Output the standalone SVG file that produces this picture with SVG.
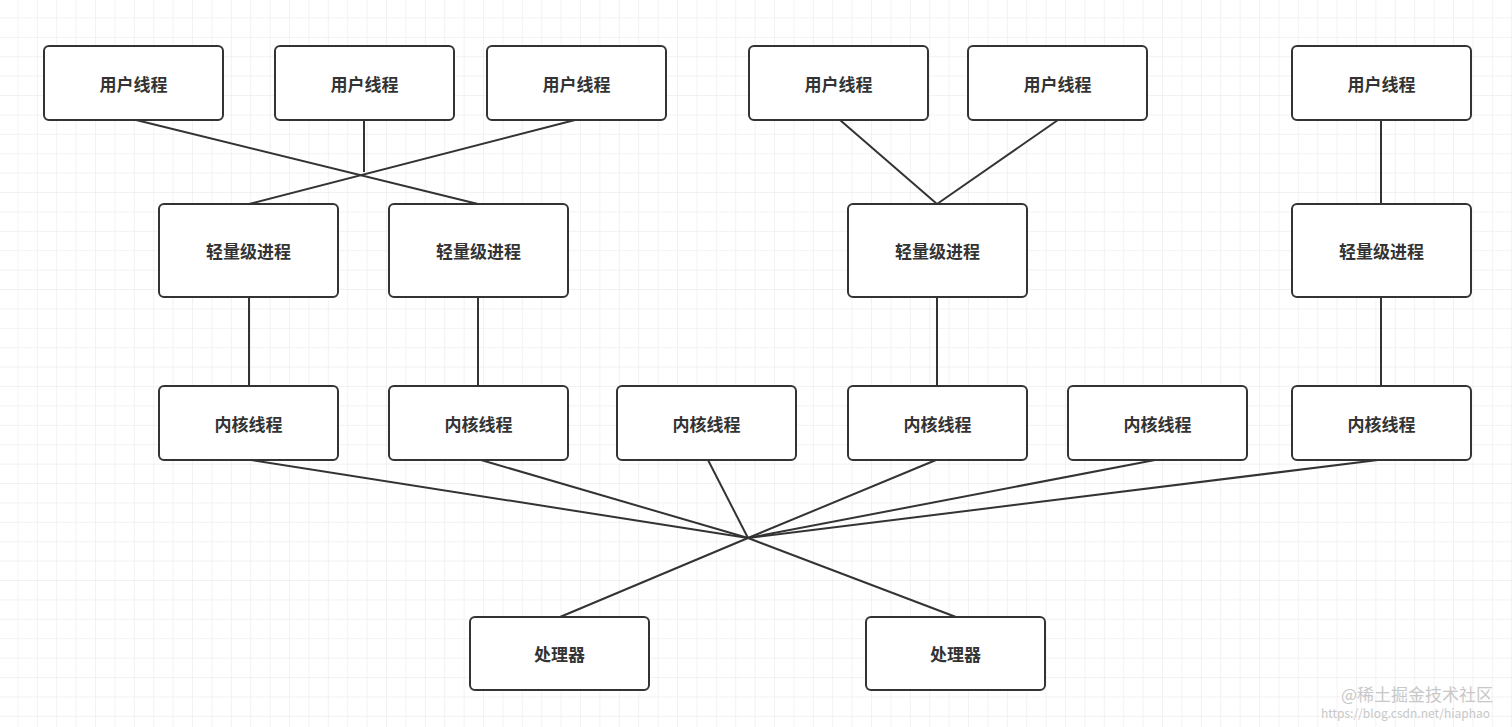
<svg xmlns="http://www.w3.org/2000/svg" width="1512" height="727" viewBox="0 0 1512 727">
<defs>
<pattern id="g" width="19.4" height="19.4" patternUnits="userSpaceOnUse" x="-1" y="-1">
<path d="M19.4 0V19.4M0 19.4H19.4" fill="none" stroke="#e6e6e6" stroke-width="1"/>
</pattern>
<style>
.b{fill:#fff;stroke:#333;stroke-width:2}
.t{font-family:"Noto Sans CJK SC",sans-serif;font-size:17px;font-weight:bold;fill:#333;text-anchor:middle;dominant-baseline:central}
.c line,.c polyline{stroke:#333;stroke-width:2;fill:none}
.w{font-family:"Noto Sans CJK SC",sans-serif;fill:#bbb;opacity:.8}
</style>
</defs>
<rect width="1512" height="727" fill="#fff"/>
<rect width="1512" height="727" fill="url(#g)"/>
<g class="c">
<line x1="136" y1="120" x2="478" y2="204"/>
<line x1="364" y1="120" x2="364" y2="172"/>
<line x1="575" y1="120" x2="249" y2="204"/>
<line x1="840" y1="120" x2="937" y2="204"/>
<line x1="1058" y1="120" x2="937" y2="204"/>
<line x1="1381" y1="120" x2="1381" y2="204"/>
<line x1="249" y1="297" x2="249" y2="386"/>
<line x1="478" y1="297" x2="478" y2="386"/>
<line x1="937" y1="297" x2="937" y2="386"/>
<line x1="1381" y1="297" x2="1381" y2="386"/>
<line x1="251" y1="460" x2="748" y2="538"/>
<line x1="481" y1="460" x2="748" y2="538"/>
<line x1="708" y1="460" x2="748" y2="538"/>
<line x1="936" y1="460" x2="748" y2="538"/>
<line x1="1155" y1="460" x2="748" y2="538"/>
<line x1="1378" y1="460" x2="748" y2="538"/>
<line x1="748" y1="538" x2="560" y2="617"/>
<line x1="748" y1="538" x2="956" y2="617"/>
</g>
<g id="u1"><rect class="b" x="44" y="46" width="179" height="74" rx="5"/><text class="t" x="133.5" y="83">用户线程</text></g>
<g id="u2"><rect class="b" x="275" y="46" width="179" height="74" rx="5"/><text class="t" x="364.5" y="83">用户线程</text></g>
<g id="u3"><rect class="b" x="487" y="46" width="179" height="74" rx="5"/><text class="t" x="576.5" y="83">用户线程</text></g>
<g id="u4"><rect class="b" x="749" y="46" width="179" height="74" rx="5"/><text class="t" x="838.5" y="83">用户线程</text></g>
<g id="u5"><rect class="b" x="968" y="46" width="179" height="74" rx="5"/><text class="t" x="1057.5" y="83">用户线程</text></g>
<g id="u6"><rect class="b" x="1292" y="46" width="179" height="74" rx="5"/><text class="t" x="1381.5" y="83">用户线程</text></g>
<g id="l1"><rect class="b" x="159" y="204" width="179" height="93" rx="5"/><text class="t" x="248.5" y="250">轻量级进程</text></g>
<g id="l2"><rect class="b" x="389" y="204" width="179" height="93" rx="5"/><text class="t" x="478.5" y="250">轻量级进程</text></g>
<g id="l3"><rect class="b" x="848" y="204" width="179" height="93" rx="5"/><text class="t" x="937.5" y="250">轻量级进程</text></g>
<g id="l4"><rect class="b" x="1292" y="204" width="179" height="93" rx="5"/><text class="t" x="1381.5" y="250">轻量级进程</text></g>
<g id="k1"><rect class="b" x="159" y="386" width="179" height="74" rx="5"/><text class="t" x="248.5" y="423">内核线程</text></g>
<g id="k2"><rect class="b" x="389" y="386" width="179" height="74" rx="5"/><text class="t" x="478.5" y="423">内核线程</text></g>
<g id="k3"><rect class="b" x="617" y="386" width="179" height="74" rx="5"/><text class="t" x="706.5" y="423">内核线程</text></g>
<g id="k4"><rect class="b" x="848" y="386" width="179" height="74" rx="5"/><text class="t" x="937.5" y="423">内核线程</text></g>
<g id="k5"><rect class="b" x="1068" y="386" width="179" height="74" rx="5"/><text class="t" x="1157.5" y="423">内核线程</text></g>
<g id="k6"><rect class="b" x="1292" y="386" width="179" height="74" rx="5"/><text class="t" x="1381.5" y="423">内核线程</text></g>
<g id="p1"><rect class="b" x="470" y="617" width="179" height="73" rx="5"/><text class="t" x="559.5" y="653">处理器</text></g>
<g id="p2"><rect class="b" x="866" y="617" width="179" height="73" rx="5"/><text class="t" x="955.5" y="653">处理器</text></g>
<text class="w" x="1493" y="701" font-size="17" text-anchor="end" fill="#999">@稀土掘金技术社区</text>
<text class="w" x="1490" y="718" font-size="12" text-anchor="end">https://blog.csdn.net/hiaphao</text>
</svg>
